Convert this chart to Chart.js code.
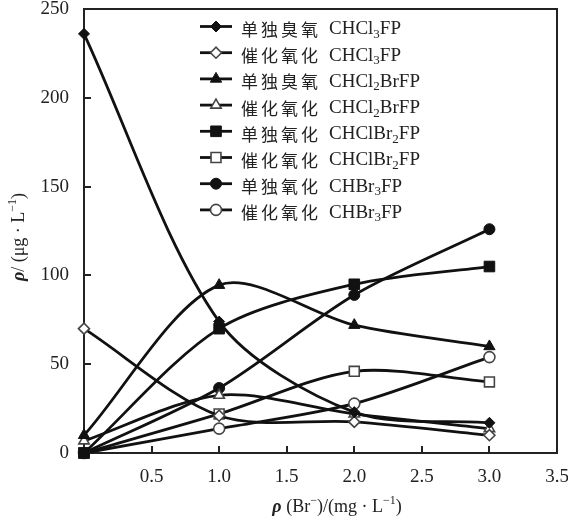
<!DOCTYPE html>
<html>
<head>
<meta charset="utf-8">
<script src="https://cdn.jsdelivr.net/npm/chart.js@4.4.0/dist/chart.umd.min.js"></script>
<style>
  html, body { margin: 0; padding: 0; background: #fff; }
  canvas { display: block; }
</style>
</head>
<body>
<canvas id="fpChart" width="568" height="523"></canvas>
<script>
// ========== Data ==========
const brDose = [0, 1, 2, 3];                 // ρ(Br-) mg/L
const xTickStep = 0.5;
const xMax = 3.5;
const yTickStep = 50;
const yMax = 250;

const ozoneCHCl3 = [236, 74, 23, 17];
const catCHCl3 = [70, 21, 17.5, 10];
const ozoneCHCl2Br = [10, 94.5, 72, 60];
const catCHCl2Br = [6.8, 32.5, 22, 13.7];
const ozoneCHClBr2 = [0, 70, 95, 105];
const catCHClBr2 = [0, 22, 46, 40];
const ozoneCHBr3 = [0, 36.6, 89, 126];
const catCHBr3 = [0, 13.7, 27.8, 54];

// legend labels: [chinese, latin, sub, latin, sub, latin ...]
const labelParts = [
  ["单独臭氧", "CHCl", "3", "FP"],
  ["催化氧化", "CHCl", "3", "FP"],
  ["单独臭氧", "CHCl", "2", "BrFP"],
  ["催化氧化", "CHCl", "2", "BrFP"],
  ["单独氧化", "CHClBr", "2", "FP"],
  ["催化氧化", "CHClBr", "2", "FP"],
  ["单独氧化", "CHBr", "3", "FP"],
  ["催化氧化", "CHBr", "3", "FP"]
];

// ========== Helpers ==========
const SERIF = '"Liberation Serif", "DejaVu Serif", serif';
const CJK = '"Noto Sans CJK SC", sans-serif';

function fpSeries(values) {
  return values.map((v, i) => ({ x: brDose[i], y: v }));
}

function fpDataset(values, style, r, filled, idx) {
  return {
    label: labelParts[idx].join(""),
    data: fpSeries(values),
    borderColor: "#111",
    borderWidth: 2.8,
    tension: 0.3,
    pointStyle: style,
    pointRadius: r,
    pointHoverRadius: r,
    pointBackgroundColor: filled ? "#111" : "#fff",
    pointBorderColor: filled ? "#111" : "#444",
    pointBorderWidth: filled ? 1 : 1.6,
    clip: false
  };
}

// draws segments [text, kind] where kind: n, i, sup, sub
function fpFont(kind) {
  if (kind === "i") return "italic bold 18px " + SERIF;
  if (kind === "sup" || kind === "sub") return "12px " + SERIF;
  return "18px " + SERIF;
}
function fpRichWidth(ctx, segs) {
  let w = 0;
  segs.forEach(s => { ctx.font = fpFont(s[1]); w += ctx.measureText(s[0]).width; });
  return w;
}
function fpRich(ctx, segs, cx, cy) {
  let x = cx - fpRichWidth(ctx, segs) / 2;
  ctx.textBaseline = "middle";
  ctx.textAlign = "left";
  segs.forEach(s => {
    ctx.font = fpFont(s[1]);
    const dy = s[1] === "sup" ? -6 : s[1] === "sub" ? 5 : 0;
    ctx.fillText(s[0], x, cy + dy);
    x += ctx.measureText(s[0]).width;
  });
}

// ========== Plugins ==========
const fpFramePlugin = {
  id: "fpFrame",
  beforeDatasetsDraw(chart) {
    const { ctx, chartArea: a, scales: { x, y } } = chart;
    ctx.save();
    ctx.strokeStyle = "#222";
    ctx.lineWidth = 2;
    ctx.strokeRect(a.left, a.top, a.right - a.left, a.bottom - a.top);
    ctx.beginPath();
    for (let v = xTickStep; v < xMax - 0.01; v += xTickStep) {
      const px = Math.round(x.getPixelForValue(v));
      ctx.moveTo(px, a.bottom);
      ctx.lineTo(px, a.bottom - 7);
    }
    for (let v = yTickStep; v < yMax; v += yTickStep) {
      const py = Math.round(y.getPixelForValue(v));
      ctx.moveTo(a.left, py);
      ctx.lineTo(a.left + 7, py);
    }
    ctx.stroke();
    ctx.restore();
  },
  afterDraw(chart) {
    const { ctx } = chart;
    ctx.save();
    ctx.fillStyle = "#222";

    // axis titles
    fpRich(ctx, [["ρ", "i"], [" (Br", "n"], ["−", "sup"], [")/(mg · L", "n"], ["−1", "sup"], [")", "n"]],
      337, 507);
    ctx.translate(19, 237);
    ctx.rotate(-Math.PI / 2);
    fpRich(ctx, [["ρ", "i"], ["/ (μg · L", "n"], ["−1", "sup"], [")", "n"]], 0, 0);
    ctx.restore();

    // legend inside plot
    ctx.save();
    const drawPoint = Chart.helpers && Chart.helpers.drawPoint;
    chart.data.datasets.forEach((ds, i) => {
      const ly = 26.5 + i * 26.2;
      ctx.strokeStyle = ds.borderColor;
      ctx.lineWidth = ds.borderWidth;
      ctx.beginPath();
      ctx.moveTo(200, ly);
      ctx.lineTo(232, ly);
      ctx.stroke();
      ctx.fillStyle = ds.pointBackgroundColor;
      ctx.strokeStyle = ds.pointBorderColor;
      ctx.lineWidth = ds.pointBorderWidth;
      if (drawPoint) {
        drawPoint(ctx, { pointStyle: ds.pointStyle, radius: ds.pointRadius, rotation: 0, borderWidth: ds.pointBorderWidth }, 216, ly);
      }

      const parts = labelParts[i];
      ctx.fillStyle = "#222";
      ctx.textBaseline = "middle";
      ctx.textAlign = "left";
      ctx.font = "17px " + CJK;
      ctx.letterSpacing = "3px";
      ctx.fillText(parts[0], 241, ly + 3);
      ctx.letterSpacing = "0px";
      let tx = 329;
      for (let k = 1; k < parts.length; k++) {
        const isSub = k % 2 === 0;
        ctx.font = (isSub ? "13px " : "19px ") + SERIF;
        ctx.fillText(parts[k], tx, ly + 3 + (isSub ? 5 : 0));
        tx += ctx.measureText(parts[k]).width;
      }
    });
    ctx.restore();
  }
};

// ========== Chart ==========
const fpCtx = document.getElementById("fpChart").getContext("2d");
new Chart(fpCtx, {
  type: "line",
  data: {
    datasets: [
      fpDataset(ozoneCHCl3, "rectRot", 5.5, true, 0),
      fpDataset(catCHCl3, "rectRot", 5.5, false, 1),
      fpDataset(ozoneCHCl2Br, "triangle", 6.5, true, 2),
      fpDataset(catCHCl2Br, "triangle", 6, false, 3),
      fpDataset(ozoneCHClBr2, "rect", 7.5, true, 4),
      fpDataset(catCHClBr2, "rect", 7, false, 5),
      fpDataset(ozoneCHBr3, "circle", 5.5, true, 6),
      fpDataset(catCHBr3, "circle", 5.5, false, 7)
    ]
  },
  options: {
    responsive: false,
    animation: false,
    devicePixelRatio: 1,
    layout: { padding: { top: 9, right: 11, left: 0, bottom: 0 } },
    plugins: { legend: { display: false }, tooltip: { enabled: false } },
    scales: {
      x: {
        type: "linear",
        min: 0,
        max: xMax,
        grid: { display: false },
        border: { display: false },
        ticks: {
          stepSize: xTickStep,
          padding: 5,
          color: "#222",
          font: { family: SERIF, size: 19 },
          maxRotation: 0,
          callback: v => v === 0 ? "" : v.toFixed(1)
        },
        afterFit: s => { s.height = 70; s.paddingLeft = 0; s.paddingRight = 0; }
      },
      y: {
        min: 0,
        max: yMax,
        grid: { display: false },
        border: { display: false },
        ticks: {
          stepSize: yTickStep,
          padding: 7,
          color: "#222",
          font: { family: SERIF, size: 19 }
        },
        afterFit: s => { s.width = 84; s.paddingTop = 0; s.paddingBottom = 0; }
      }
    }
  },
  plugins: [fpFramePlugin]
});
</script>
</body>
</html>
